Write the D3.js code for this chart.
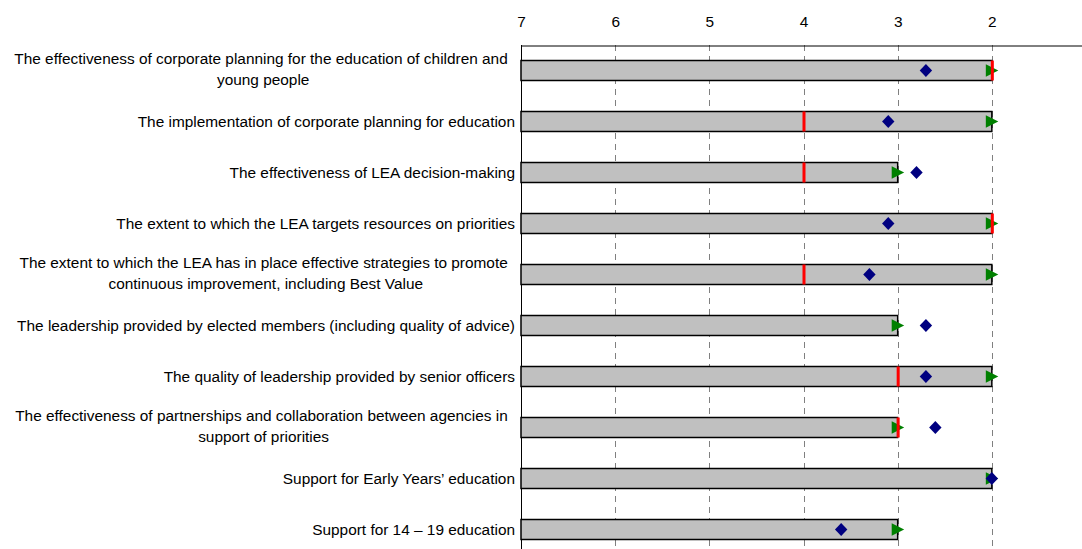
<!DOCTYPE html>
<html>
<head>
<meta charset="utf-8">
<script src="https://d3js.org/d3.v7.min.js"></script>
<style>
  body { margin: 0; background: #fff; }
  svg { display: block; font-family: "Liberation Sans", Arial, sans-serif; }
  .grid line { stroke: #808080; stroke-dasharray: 6,5; }
  .bar { fill: #c0c0c0; stroke: #000; stroke-width: 1.5px; }
  .cat { font-size: 15.4px; fill: #000; }
  .axis text { font-size: 15.4px; fill: #000; }
</style>
</head>
<body>
<svg width="1082" height="549"></svg>
<script>
// categories, top to bottom (label lines split with |)
var categories = [
  "The effectiveness of corporate planning for the education of children and |young people",
  "The implementation of corporate planning for education",
  "The effectiveness of LEA decision-making",
  "The extent to which the LEA targets resources on priorities",
  "The extent to which the LEA has in place effective strategies to promote |continuous improvement, including Best Value",
  "The leadership provided by elected members (including quality of advice)",
  "The quality of leadership provided by senior officers",
  "The effectiveness of partnerships and collaboration between agencies in |support of priorities",
  "Support for Early Years\u2019 education",
  "Support for 14 \u2013 19 education"
];
var barValues      = [2, 2, 3, 2, 2, 3, 2, 3, 2, 3];
var triangleValues = [2, 2, 3, 2, 2, 3, 2, 3, 2, 3];
var redValues      = [2, 4, 4, 2, 4, null, 3, 3, null, null];
var diamondValues  = [2.7, 3.1, 2.8, 3.1, 3.3, 2.7, 2.7, 2.6, 2, 3.6];
var tickValues = [7, 6, 5, 4, 3, 2];

var svg = d3.select("svg");
var axisY = 45, bottom = 555;

// reversed scale, 1 sits just off the right edge
var x = d3.scaleLinear().domain([7, 1]).range([521, 1086]);
var y = d3.scaleBand().domain(d3.range(categories.length))
  .range([axisY, bottom]).paddingInner(0.608).paddingOuter(0.304);

// dashed gridlines
svg.append("g").attr("class", "grid")
  .selectAll("line")
  .data(tickValues.slice(1))
  .enter().append("line")
  .attr("x1", function(d){ return Math.round(x(d)) + 0.5; })
  .attr("x2", function(d){ return Math.round(x(d)) + 0.5; })
  .attr("y1", axisY).attr("y2", 549);

// top axis
var axis = svg.append("g").attr("class", "axis")
  .attr("transform", "translate(0," + (axisY + 0.5) + ")")
  .call(d3.axisTop(x).tickValues(tickValues).tickFormat(d3.format("d"))
    .tickSize(0).tickSizeOuter(0).tickPadding(19));
axis.select(".domain").attr("stroke", "#000");
axis.selectAll("text").attr("font-family", null).attr("font-size", null);

// left border
svg.append("line")
  .attr("x1", x(7) + 0.5).attr("x2", x(7) + 0.5)
  .attr("y1", axisY).attr("y2", 549)
  .attr("stroke", "#000").attr("stroke-width", 1);

// bars
svg.append("g").selectAll("rect")
  .data(barValues)
  .enter().append("rect")
  .attr("class", "bar")
  .attr("x", x(7))
  .attr("y", function(d, i){ return y(i); })
  .attr("width", function(d){ return x(d) - x(7); })
  .attr("height", y.bandwidth());

// green triangles
svg.append("g").selectAll("path")
  .data(triangleValues)
  .enter().append("path")
  .attr("d", "M-6,-6.3L6.5,0L-6,6.3Z")
  .attr("fill", "#008000")
  .attr("transform", function(d, i){ return "translate(" + x(d) + "," + (y(i) + y.bandwidth() / 2) + ")"; });

// red markers
svg.append("g").selectAll("line")
  .data(redValues.map(function(v, i){ return {v: v, i: i}; }).filter(function(d){ return d.v != null; }))
  .enter().append("line")
  .attr("x1", function(d){ return x(d.v) + 0.5; })
  .attr("x2", function(d){ return x(d.v) + 0.5; })
  .attr("y1", function(d){ return y(d.i); })
  .attr("y2", function(d){ return y(d.i) + y.bandwidth(); })
  .attr("stroke", "#ff0000").attr("stroke-width", 3);

// navy diamonds
svg.append("g").selectAll("path")
  .data(diamondValues)
  .enter().append("path")
  .attr("d", "M0,-6.5L6.2,0L0,6.5L-6.2,0Z")
  .attr("fill", "#000080")
  .attr("transform", function(d, i){ return "translate(" + x(d) + "," + (y(i) + y.bandwidth() / 2) + ")"; });

// category labels: single line right aligned, wrapped ones centred in a right aligned block
var labelRight = 515;
categories.forEach(function(c, i){
  var lines = c.split("|");
  var cy = y(i) + y.bandwidth() / 2;
  if (lines.length == 1) {
    svg.append("text").attr("class", "cat")
      .attr("x", labelRight).attr("y", cy).attr("dy", "0.35em")
      .attr("text-anchor", "end").text(c);
    return;
  }
  var t = svg.append("text").attr("class", "cat").attr("text-anchor", "middle")
    .attr("xml:space", "preserve");
  var spans = lines.map(function(l, k){
    return t.append("tspan").attr("y", cy + (k == 0 ? -12 : 9.5)).attr("dy", "0.35em").text(l);
  });
  var w = d3.max(spans, function(s){ return s.node().getComputedTextLength(); });
  spans.forEach(function(s){ s.attr("x", labelRight - 3 - w / 2); });
});
</script>
</body>
</html>
